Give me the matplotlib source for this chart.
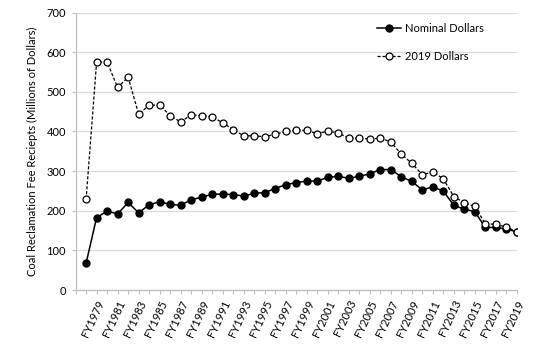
import numpy as np
import matplotlib
matplotlib.use('Agg')
import matplotlib.pyplot as plt

plt.rcParams['font.family'] = ['Lato', 'DejaVu Sans']

years = list(range(1978, 2020))
nominal = [68, 183, 199, 192, 221, 195, 215, 223, 216, 214,
           228, 234, 242, 242, 241, 237, 244, 246, 256, 266,
           271, 275, 275, 284, 287, 282, 287, 293, 304, 304,
           286, 274, 253, 260, 250, 214, 204, 198, 158, 158,
           154, 147]
real2019 = [229, 575, 575, 511, 537, 444, 466, 467, 440, 424,
            442, 440, 437, 422, 405, 389, 389, 387, 393, 400,
            403, 403, 394, 401, 396, 384, 383, 381, 383, 374,
            343, 320, 291, 298, 281, 236, 220, 211, 167, 166,
            159, 147]
label_years = list(range(1979, 2020, 2))

fig = plt.figure(figsize=(5.4, 3.59), dpi=100)
ax = fig.add_axes([0.140, 0.192, 0.817, 0.773])

ax.plot(years, nominal, '-', color='black', lw=1.1, marker='o', ms=5,
        mfc='black', mec='black', label='Nominal Dollars', zorder=3)
ax.plot(years, real2019, '--', color='black', lw=0.9, dashes=(2.5, 1.5),
        marker='o', ms=5, mfc='white', mec='black', mew=0.9,
        label='2019 Dollars', zorder=4)

ax.set_xlim(1977, 2019)
ax.set_ylim(0, 700)
ax.set_yticks(np.arange(0, 701, 100))
ax.set_xticks(range(1977, 2020))
ax.set_xticklabels(['FY%d' % y if y in label_years else '' for y in range(1977, 2020)],
                   rotation=65, ha='right', va='top', rotation_mode='anchor')
ax.tick_params(axis='x', length=3, color='#bfbfbf', labelsize=8, pad=3)
ax.tick_params(axis='y', length=3, color='#bfbfbf', labelsize=8, pad=4)

ax.grid(axis='y', color='#d9d9d9', lw=0.9)
ax.set_axisbelow(True)
for s in ['top', 'right']:
    ax.spines[s].set_visible(False)
for s in ['left', 'bottom']:
    ax.spines[s].set_color('#bfbfbf')
    ax.spines[s].set_linewidth(0.9)

ax.set_ylabel('Coal Reclamation Fee Reciepts (Millions of Dollars)', fontsize=8, labelpad=6)

ax.legend(loc='upper left', bbox_to_anchor=(0.66, 1.0), frameon=False, fontsize=8,
          handlelength=2.2, labelspacing=1.6, handletextpad=0.3)

fig.savefig('out.png', dpi=100)
